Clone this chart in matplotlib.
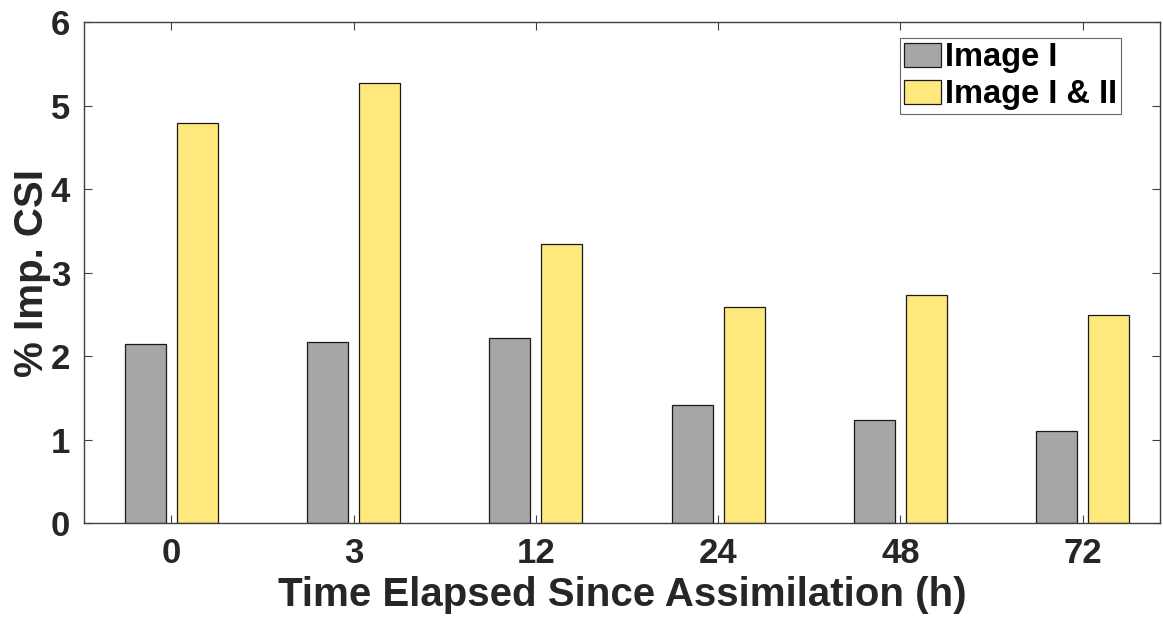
import matplotlib
matplotlib.use("Agg")
import matplotlib.pyplot as plt
import numpy as np

hours = ["0", "3", "12", "24", "48", "72"]
image_i = [2.14, 2.17, 2.22, 1.41, 1.23, 1.10]
image_i_ii = [4.79, 5.27, 3.34, 2.59, 2.73, 2.49]
series_names = ["Image I", "Image I & II"]

plt.rcParams["font.family"] = ["Liberation Sans", "DejaVu Sans"]
plt.rcParams["font.weight"] = "bold"

fig = plt.figure(figsize=(11.63, 6.22), dpi=100)
ax = fig.add_axes([0.0722, 0.159, 0.9252, 0.8056])

x = np.arange(len(hours))
w = 0.225
off = 0.143
ax.bar(x - off, image_i, width=w, color="#A6A6A6", edgecolor="#1a1a1a",
       linewidth=0.9, label=series_names[0])
ax.bar(x + off, image_i_ii, width=w, color="#FFE87C", edgecolor="#1a1a1a",
       linewidth=0.9, label=series_names[1])

ax.set_xlim(-0.48, 5.425)
ax.set_ylim(0, 6)
ax.set_xticks(x)
ax.set_xticklabels(hours)
ax.set_yticks(range(0, 7))

ax.tick_params(axis="both", which="both", direction="in", top=True, right=True,
               length=6, width=0.8, color="#404040", labelsize=25,
               labelcolor="#262626", pad=10)
for s in ax.spines.values():
    s.set_color("#404040")
    s.set_linewidth(1.0)

ax.set_xlabel("Time Elapsed Since Assimilation (h)", fontsize=29,
              fontweight="bold", color="#262626", labelpad=4)
ax.set_ylabel("% Imp. CSI", fontsize=29, fontweight="bold",
              color="#262626", labelpad=0)

leg = ax.legend(loc="upper right", bbox_to_anchor=(0.964, 0.968),
                fontsize=23.5, frameon=True, fancybox=False, borderpad=0.12,
                handlelength=1.15, handleheight=0.75, handletextpad=0.12,
                labelspacing=0.2, borderaxespad=0.0)
leg.get_frame().set_edgecolor("#404040")
leg.get_frame().set_linewidth(0.8)
for t in leg.get_texts():
    t.set_fontweight("bold")
    t.set_color("black")

fig.savefig("out.png", dpi=100)
